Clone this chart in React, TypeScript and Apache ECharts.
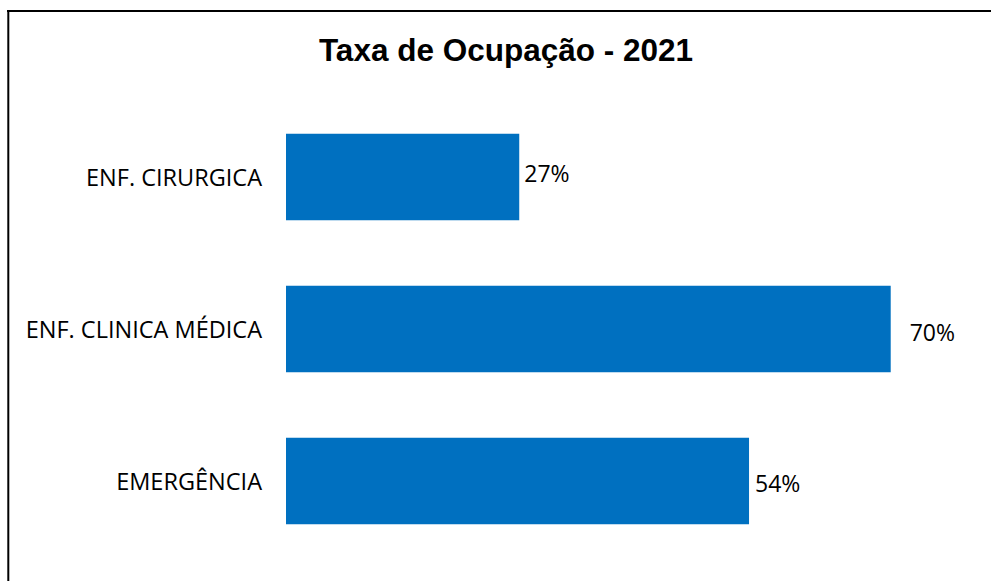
import React, { useEffect, useRef } from "react";
import * as echarts from "echarts";

const categories = ["ENF. CIRURGICA", "ENF. CLINICA MÉDICA", "EMERGÊNCIA"];
const values = [27, 70, 53.6];
const titleText = "Taxa de Ocupação - 2021";

const labelDistances = [5, 19, 6];
const labelShifts = [-4, 3, 2];

export default function App() {
  const ref = useRef<HTMLDivElement>(null);
  useEffect(() => {
    if (!ref.current) return;
    const chart = echarts.init(ref.current, null, { renderer: "svg" });
    chart.setOption({
      animation: false,
      backgroundColor: "#ffffff",
      title: {
        text: titleText,
        left: 501,
        top: 29,
        textAlign: "center",
        textStyle: {
          fontFamily: "Liberation Sans, Arial, sans-serif",
          fontWeight: "bold",
          fontSize: 31.5,
          color: "#000000",
        },
      },
      graphic: [
        {
          type: "line",
          shape: { x1: 7, y1: 11, x2: 991, y2: 11 },
          style: { stroke: "#000000", lineWidth: 2 },
        },
        {
          type: "line",
          shape: { x1: 8.3, y1: 10, x2: 8.3, y2: 581 },
          style: { stroke: "#000000", lineWidth: 2 },
        },
      ],
      grid: { left: 286, top: 101, width: 691.1, height: 456, containLabel: false },
      xAxis: {
        type: "value",
        min: 0,
        max: 80,
        show: false,
      },
      yAxis: {
        type: "category",
        data: categories,
        inverse: true,
        axisLine: { show: false },
        axisTick: { show: false },
        splitLine: { show: false },
        axisLabel: {
          margin: 24,
          fontFamily: "Open Sans, sans-serif",
          fontSize: 23.5,
          color: "#000000",
        },
      },
      series: [
        {
          type: "bar",
          barCategoryGap: "43%",
          itemStyle: { color: "#0070C0" },
          data: values.map((v, i) => ({
            value: v,
            label: {
              show: true,
              position: "right",
              distance: labelDistances[i],
              offset: [0, labelShifts[i]],
            },
          })),
          label: {
            show: true,
            position: "right",
            fontFamily: "Open Sans, sans-serif",
            fontSize: 23,
            color: "#000000",
            formatter: (p: any) => Math.round(p.value) + "%",
          },
        },
      ],
    });
    return () => chart.dispose();
  }, []);
  return (
    <div
      ref={ref}
      style={{ position: "fixed", left: 0, top: 0, width: 991, height: 581 }}
    />
  );
}
